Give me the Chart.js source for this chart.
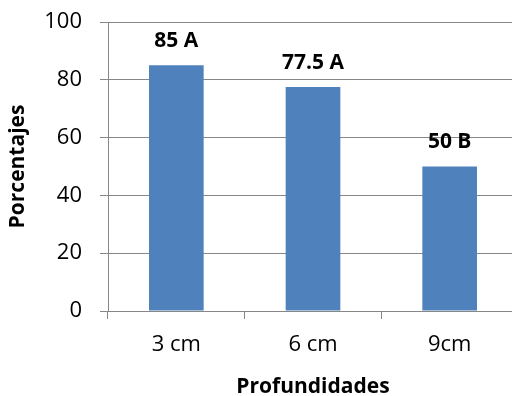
<!DOCTYPE html>
<html>
<head>
<meta charset="utf-8">
<script src="https://cdn.jsdelivr.net/npm/chart.js@4"></script>
<style>
  html, body { margin: 0; padding: 0; background: #fff; overflow: hidden; }
  #wrap { width: 518px; height: 396px; }
</style>
</head>
<body>
<div id="wrap"><canvas id="chart" width="518" height="396"></canvas></div>
<script>
// Depth categories and germination percentages with significance groups
const depths = ['3 cm', '6 cm', '9cm'];
const percentages = [85, 77.5, 50];
const groups = ['A', 'A', 'B'];
const yTicks = [0, 20, 40, 60, 80, 100];

const FONT = "'Open Sans', 'Liberation Sans', sans-serif";
const GRID = '#878787';

// Draws "value group" above each bar
const barLabels = {
  id: 'barLabels',
  afterDatasetsDraw(chart) {
    const ctx = chart.ctx;
    const meta = chart.getDatasetMeta(0);
    ctx.save();
    ctx.font = 'bold 21px ' + FONT;
    ctx.fillStyle = '#000';
    ctx.textAlign = 'center';
    ctx.textBaseline = 'middle';
    meta.data.forEach((bar, i) => {
      const v = chart.data.datasets[0].data[i];
      ctx.fillText(v + ' ' + groups[i], bar.x, bar.y - 24);
    });
    ctx.restore();
  }
};

new Chart(document.getElementById('chart'), {
  type: 'bar',
  data: {
    labels: depths,
    datasets: [{
      data: percentages,
      backgroundColor: '#4F81BD',
      borderWidth: 0,
      barPercentage: 0.4,
      categoryPercentage: 1.0
    }]
  },
  options: {
    responsive: false,
    animation: false,
    devicePixelRatio: 1,
    layout: { padding: { top: 22, right: 0, bottom: 0, left: 0 } },
    plugins: {
      legend: { display: false },
      tooltip: { enabled: false }
    },
    scales: {
      x: {
        afterFit(scale) {
          scale.height = 85;
          scale.paddingLeft = 0;
          scale.paddingRight = 0;
        },
        grid: {
          drawOnChartArea: false,
          drawTicks: true,
          tickLength: 8,
          color: GRID,
          offset: true
        },
        border: { color: GRID, width: 1 },
        ticks: {
          color: '#000',
          padding: 13,
          font: { family: FONT, size: 22 }
        },
        title: {
          display: true,
          text: 'Profundidades',
          color: '#000',
          padding: { top: 0, bottom: -4 },
          font: { family: FONT, size: 21, weight: 'bold' }
        }
      },
      y: {
        min: 0,
        max: 100,
        afterFit(scale) {
          scale.width = 108;
          scale.paddingTop = 0;
          scale.paddingBottom = 0;
        },
        afterBuildTicks(scale) { scale.ticks = yTicks.map(v => ({ value: v })); },
        grid: {
          color: GRID,
          tickLength: 8,
          drawTicks: true
        },
        border: { color: GRID, width: 1 },
        ticks: {
          color: '#000',
          padding: 18,
          font: { family: FONT, size: 22 }
        },
        title: {
          display: true,
          text: 'Porcentajes',
          color: '#000',
          padding: { top: 5, bottom: 0 },
          font: { family: FONT, size: 21, weight: 'bold' }
        }
      }
    }
  },
  plugins: [barLabels]
});
</script>
</body>
</html>
